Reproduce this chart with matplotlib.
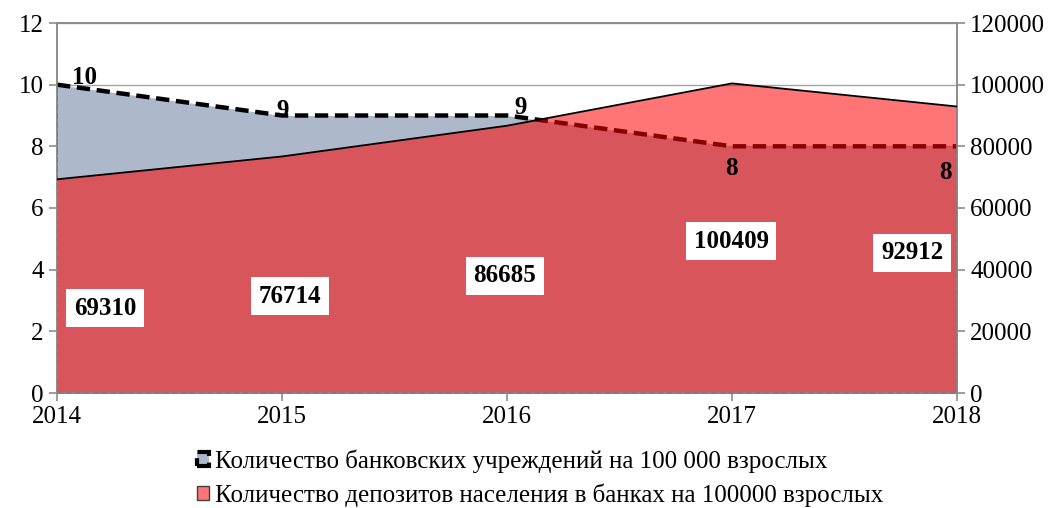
import matplotlib.pyplot as plt
from matplotlib.patches import Patch

plt.rcParams['font.family'] = ['Liberation Serif', 'DejaVu Serif']

years = [2014, 2015, 2016, 2017, 2018]
branches = [10, 9, 9, 8, 8]
deposits = [69310, 76714, 86685, 100409, 92912]
branch_label = 'Количество банковских учреждений на 100 000 взрослых'
deposit_label = 'Количество депозитов населения в банках на 100000 взрослых'

# label offsets in pixels from each point
branch_off = [(28, 7), (1, 5), (14, 8), (-1, -22), (-12, -26)]
deposit_off = [(48, -129), (8, -140), (-2, -150), (-1, -158), (-45, -146)]

grey = '#ADB9CA'
axcol = '#8C8C8C'

fig = plt.figure(figsize=(10.55, 5.08), dpi=100)
ax = fig.add_axes([57/1055, 1-393/508, 900/1055, 370/508])
ax2 = ax.twinx()

# branches (left axis)
ax.fill_between(years, branches, 0, color=grey, lw=0, zorder=2)
ax.plot(years, branches, color='black', ls=(0, (3, 1.5)), lw=3.2, zorder=3)
ax.plot([years[0], years[0]], [0, branches[0]], color='black', ls='--', lw=1.2, zorder=3)
ax.plot([years[-1], years[-1]], [0, branches[-1]], color='black', ls='--', lw=1.2, zorder=3)
ax.plot([years[0], years[-1]], [0, 0], color='black', ls='--', lw=1.2, zorder=3, clip_on=False)

ax.set_xlim(years[0], years[-1])
ax.set_ylim(0, 12)
ax.set_yticks(range(0, 13, 2))
ax.set_xticks(years)
ax.grid(axis='y', color='#A6A6A6', lw=1, zorder=0)
ax.set_axisbelow(True)

# deposits (right axis)
ax2.fill_between(years, deposits, 0, color='red', alpha=0.54, lw=0, zorder=2)
ax2.plot(years, deposits, color='black', lw=1.3, zorder=3)
ax2.set_ylim(0, 120000)
ax2.set_yticks(range(0, 120001, 20000))

for a in (ax, ax2):
    for s in a.spines.values():
        s.set_color(axcol)
        s.set_linewidth(1.2)
    a.tick_params(colors=axcol, labelcolor='black', labelsize=18, length=6, width=1.2)

for x, y, off in zip(years, branches, branch_off):
    ax2.annotate(str(y), (x, y * 10000), xytext=off, textcoords='offset pixels',
                 ha='center', va='center', fontsize=18, fontweight='bold', zorder=6)

for x, y, off in zip(years, deposits, deposit_off):
    ax2.annotate(str(y), (x, y), xytext=off, textcoords='offset pixels',
                 ha='center', va='center', fontsize=18, fontweight='bold', zorder=6,
                 bbox=dict(boxstyle='square,pad=0.3', fc='white', ec='none'))

handles = [Patch(facecolor=grey, edgecolor='black', linestyle='--', linewidth=3),
           Patch(facecolor='#FF7575', edgecolor='#404040', linewidth=1)]
fig.legend(handles, [branch_label, deposit_label], loc='center',
           bbox_to_anchor=(0.512, 1-478/508), frameon=False, fontsize=18,
           handlelength=0.5, handleheight=0.5, handletextpad=0.25, labelspacing=0.42,
           borderpad=0)

fig.savefig('out.png', dpi=100)
